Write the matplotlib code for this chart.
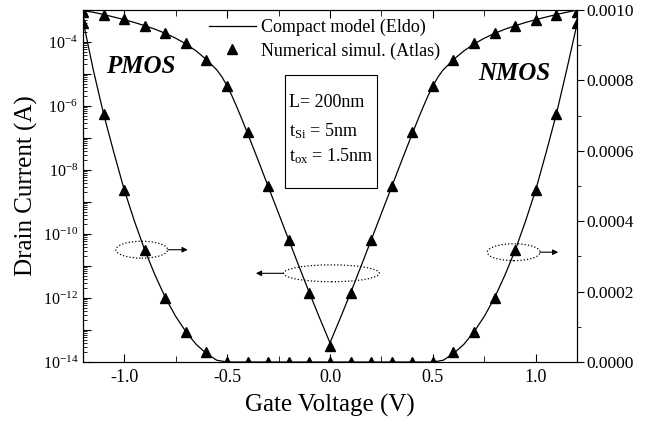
import numpy as np
import matplotlib
matplotlib.use('Agg')
import matplotlib.pyplot as plt
from matplotlib.ticker import LogLocator, FixedLocator, MultipleLocator, FuncFormatter
from matplotlib.patches import Ellipse, Rectangle
from matplotlib.lines import Line2D

plt.rcParams['font.family'] = ['Liberation Serif', 'DejaVu Serif']
plt.rcParams['mathtext.fontset'] = 'custom'
plt.rcParams['mathtext.rm'] = 'Liberation Serif'
plt.rcParams['mathtext.it'] = 'Liberation Serif:italic'
plt.rcParams['mathtext.bf'] = 'Liberation Serif:bold'

# compact model lines
vg_n_line = [0.0, 0.05, 0.1, 0.15, 0.2, 0.25, 0.3, 0.35, 0.4, 0.425, 0.45, 0.475, 0.5,
             0.525, 0.55, 0.6, 0.65, 0.7, 0.75, 0.8, 0.85, 0.9, 0.95, 1.0, 1.05, 1.1, 1.15, 1.2]
log_n_line = [-13.4, -12.63, -11.84, -11.02, -10.19, -9.35, -8.52, -7.68, -6.86, -6.46, -6.07,
              -5.7, -5.37, -5.09, -4.87, -4.55, -4.28, -4.06, -3.88, -3.73, -3.6, -3.49,
              -3.39, -3.3, -3.22, -3.14, -3.07, -3.0]
vg_p_line = [-0.0, -0.05, -0.1, -0.15, -0.2, -0.25, -0.3, -0.35, -0.4, -0.425, -0.45, -0.475, -0.5,
             -0.525, -0.55, -0.6, -0.65, -0.7, -0.75, -0.8, -0.85, -0.9, -0.95, -1.0, -1.05, -1.1, -1.15, -1.2]
log_p_line = [-13.4, -12.63, -11.84, -11.02, -10.19, -9.35, -8.52, -7.68, -6.86, -6.46, -6.07,
              -5.7, -5.37, -5.09, -4.87, -4.55, -4.28, -4.06, -3.88, -3.73, -3.6, -3.49,
              -3.39, -3.3, -3.22, -3.14, -3.07, -3.02]

vg_lin_line = [-1.2, -1.15, -1.1, -1.05, -1.0, -0.95, -0.9, -0.85, -0.8, -0.75, -0.7, -0.65,
               -0.6, -0.55, -0.5, 0.5, 0.55, 0.6, 0.65, 0.7, 0.75, 0.8, 0.85, 0.9, 0.95,
               1.0, 1.05, 1.1, 1.15, 1.2]
id_lin_line = [9.7e-4, 8.3e-4, 7.05e-4, 5.95e-4, 4.9e-4, 4.0e-4, 3.18e-4, 2.47e-4, 1.83e-4,
               1.3e-4, 8.6e-5, 5.0e-5, 2.4e-5, 5e-6, 0.0, 0.0, 5e-6, 2.4e-5, 5.0e-5, 8.6e-5,
               1.3e-4, 1.83e-4, 2.47e-4, 3.18e-4, 4.0e-4, 4.9e-4, 5.95e-4, 7.05e-4, 8.3e-4, 9.6e-4]

# Atlas points
vg_pts = [-1.2, -1.1, -1.0, -0.9, -0.8, -0.7, -0.6, -0.5, -0.4, -0.3, -0.2, -0.1, 0.0,
          0.1, 0.2, 0.3, 0.4, 0.5, 0.6, 0.7, 0.8, 0.9, 1.0, 1.1, 1.2]
log_pts = [-3.05, -3.16, -3.29, -3.5, -3.73, -4.04, -4.56, -5.38, -6.82, -8.5, -10.19, -11.84,
           -13.5, -11.84, -10.19, -8.5, -6.82, -5.38, -4.56, -4.04, -3.73, -3.5, -3.31, -3.16, -3.05]
lin_pts = [9.62e-4, 7.05e-4, 4.9e-4, 3.18e-4, 1.83e-4, 8.6e-5, 2.9e-5, 0, 0, 0, 0, 0, 0,
           0, 0, 0, 0, 0, 2.9e-5, 8.6e-5, 1.83e-4, 3.18e-4, 4.9e-4, 7.05e-4, 9.62e-4]

box_lines = ['L= 200nm', 't$_{\\rm Si}$ = 5nm', 't$_{\\rm ox}$ = 1.5nm']

fig = plt.figure(figsize=(6.55, 4.26), dpi=100)
ax = fig.add_axes([0.1267, 0.1502, 0.7542, 0.8263])
ax2 = ax.twinx()

ax.plot(vg_n_line, 10.0 ** np.array(log_n_line), color='k', lw=0.9)
ax.plot(vg_p_line, 10.0 ** np.array(log_p_line), color='k', lw=0.9)
ax.plot(vg_pts, 10.0 ** np.array(log_pts), ls='none', marker='^', color='k', ms=7.5)
ax2.plot(vg_lin_line, id_lin_line, color='k', lw=0.9)
ax2.plot(vg_pts, lin_pts, ls='none', marker='^', color='k', ms=7.5)

ax.set_yscale('log')
ax.set_ylim(1e-14, 1e-3)
ax.set_xlim(-1.2, 1.2)
ax2.set_ylim(0, 0.001)

ax.xaxis.set_major_locator(FixedLocator([-1.0, -0.5, 0.0, 0.5, 1.0]))
ax.xaxis.set_minor_locator(MultipleLocator(0.25))
ax.xaxis.set_major_formatter(FuncFormatter(lambda v, p: '%.1f' % v))
ax.yaxis.set_major_locator(LogLocator(base=10, numticks=20))
ax.yaxis.set_minor_locator(LogLocator(base=10, subs=np.arange(2, 10), numticks=20))
ax.yaxis.set_major_formatter(FuncFormatter(
    lambda v, p: r'$10^{%d}$' % round(np.log10(v)) if round(np.log10(v)) % 2 == 0 else ''))
ax2.yaxis.set_major_locator(MultipleLocator(0.0002))
ax2.yaxis.set_minor_locator(MultipleLocator(0.0001))
ax2.yaxis.set_major_formatter(FuncFormatter(lambda v, p: '%.4f' % v))

ax.tick_params(axis='x', which='both', direction='in', top=True, labelsize=13, pad=5)
ax.tick_params(axis='x', which='major', length=6)
ax.tick_params(axis='x', which='minor', length=4)
ax.tick_params(axis='y', which='both', direction='in', labelsize=11.5)
ax.tick_params(axis='y', which='major', length=6)
ax.tick_params(axis='y', which='minor', length=3)
ax2.tick_params(axis='y', which='both', direction='out', labelsize=12.5, pad=2)
ax2.tick_params(axis='y', which='major', length=5)
ax2.tick_params(axis='y', which='minor', length=3)

ax.set_xlabel('Gate Voltage (V)', fontsize=18, labelpad=6)
ax.set_ylabel('Drain Current (A)', fontsize=18, labelpad=3)

ax.text(0.047, 0.82, 'PMOS', transform=ax.transAxes, fontsize=18, weight='bold', style='italic')
ax.text(0.8, 0.80, 'NMOS', transform=ax.transAxes, fontsize=18, weight='bold', style='italic')

# parameter box
ax.add_patch(Rectangle((0.409, 0.494), 0.186, 0.321, transform=ax.transAxes,
                       fill=False, ec='k', lw=0.8))
for txt, ty in zip(box_lines, [0.736, 0.657, 0.585]):
    ax.text(0.418, ty, txt, transform=ax.transAxes, fontsize=13, va='center')

handles = [Line2D([], [], color='k', lw=0.9),
           Line2D([], [], ls='none', marker='^', color='k', ms=7.5)]
ax.legend(handles, ['Compact model (Eldo)', 'Numerical simul. (Atlas)'],
          loc='upper left', bbox_to_anchor=(0.255, 0.975), frameon=False, fontsize=13,
          handlelength=2.6, handletextpad=0.3, labelspacing=0.35, borderpad=0, borderaxespad=0)

# dotted ellipses with arrows pointing to the relevant axis
for cx, cy, w, x0, x1 in [(0.119, 0.319, 0.105, 0.172, 0.212),
                          (0.503, 0.252, 0.194, 0.406, 0.35),
                          (0.872, 0.312, 0.107, 0.925, 0.962)]:
    ax.add_patch(Ellipse((cx, cy), w, 0.048, transform=ax.transAxes, fill=False,
                         ls=':', lw=0.9, ec='k'))
    ax.annotate('', xy=(x1, cy), xytext=(x0, cy), xycoords='axes fraction',
                arrowprops=dict(arrowstyle='-|>', color='k', lw=0.8,
                                mutation_scale=8, shrinkA=0, shrinkB=0))

plt.savefig('out.png', dpi=100)
